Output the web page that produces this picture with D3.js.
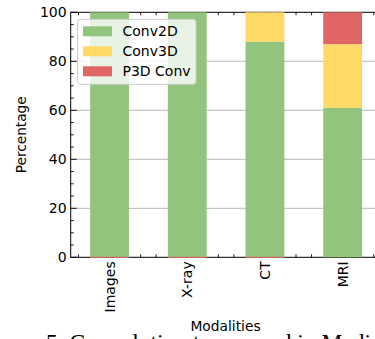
<!DOCTYPE html>
<html>
<head>
<meta charset="utf-8">
<script src="https://cdn.jsdelivr.net/npm/d3@7"></script>
<style>
  body { margin: 0; background: #fff; }
  text { font-family: "DejaVu Sans", sans-serif; fill: #000; }
</style>
</head>
<body>
<div id="chart"></div>
<script>
// share of convolution types per modality (%)
var modalities = ["Images", "X-ray", "CT", "MRI"];
var conv2d = [100, 100, 88, 61];
var conv3d = [0, 0, 12, 26];
var p3d    = [0, 0, 0, 13];
var seriesNames = ["Conv2D", "Conv3D", "P3D Conv"];
var yTicks = [0, 20, 40, 60, 80, 100];

var width = 375, height = 339;
var plotL = 70.7, plotT = 12.3, plotB = 257.3, plotR = 381.5;

var color = d3.scaleOrdinal()
  .domain(seriesNames)
  .range(["#93c47d", "#ffd966", "#e06666"]);

var rows = modalities.map(function (m, i) {
  return { modality: m, "Conv2D": conv2d[i], "Conv3D": conv3d[i], "P3D Conv": p3d[i] };
});

var svg = d3.select("#chart").append("svg")
  .attr("width", width)
  .attr("height", height);

var x = d3.scaleBand()
  .domain(modalities)
  .range([plotL, plotR])
  .paddingInner(0.5)
  .paddingOuter(0.25);

// linear twin of the band scale, used for the minor ticks
var xLin = d3.scaleLinear().domain([-0.5, modalities.length - 0.5]).range([plotL, plotR]);

var y = d3.scaleLinear().domain([0, 100]).range([plotB, plotT]);

// grid
svg.append("g").selectAll("line")
  .data(yTicks.filter(function (d) { return d > 0 && d < 100; }))
  .enter().append("line")
  .attr("x1", plotL).attr("x2", plotR)
  .attr("y1", function (d) { return y(d); })
  .attr("y2", function (d) { return y(d); })
  .attr("stroke", "#b0b0b0")
  .attr("stroke-width", 0.9);

// ticks (inward) on all sides
var tk = svg.append("g").attr("stroke", "#000").attr("stroke-width", 0.9);
y.ticks(20).forEach(function (d) {
  var len = yTicks.indexOf(d) >= 0 ? 6 : 3;
  tk.append("line").attr("x1", plotL).attr("x2", plotL + len)
    .attr("y1", y(d)).attr("y2", y(d));
});
xLin.ticks(20).forEach(function (d) {
  var major = Math.abs(d - Math.round(d)) < 1e-6;
  var len = major ? 6 : 3;
  tk.append("line").attr("x1", xLin(d)).attr("x2", xLin(d))
    .attr("y1", plotB).attr("y2", plotB - len);
  tk.append("line").attr("x1", xLin(d)).attr("x2", xLin(d))
    .attr("y1", plotT).attr("y2", plotT + len);
});

// spines
svg.append("rect")
  .attr("x", plotL).attr("y", plotT)
  .attr("width", plotR - plotL).attr("height", plotB - plotT)
  .attr("fill", "none").attr("stroke", "#000").attr("stroke-width", 1);

// stacked bars
var stack = d3.stack().keys(seriesNames);
var layers = stack(rows);

svg.append("g").selectAll("g")
  .data(layers)
  .enter().append("g")
  .attr("fill", function (d) { return color(d.key); })
  .selectAll("rect")
  .data(function (d) { return d; })
  .enter().append("rect")
  .attr("x", function (d) { return x(d.data.modality); })
  .attr("y", function (d) { return y(d[1]); })
  .attr("width", x.bandwidth())
  .attr("height", function (d) { return y(d[0]) - y(d[1]); });

// empty P3D bars leave a thin edge on the baseline
svg.append("g").selectAll("line")
  .data(rows.filter(function (d) { return d["P3D Conv"] === 0; }))
  .enter().append("line")
  .attr("x1", function (d) { return x(d.modality); })
  .attr("x2", function (d) { return x(d.modality) + x.bandwidth(); })
  .attr("y1", plotB).attr("y2", plotB)
  .attr("stroke", color("P3D Conv"))
  .attr("stroke-width", 1);

// y tick labels
svg.append("g").selectAll("text")
  .data(yTicks)
  .enter().append("text")
  .attr("x", plotL - 4)
  .attr("y", function (d) { return y(d); })
  .attr("dy", "0.36em")
  .attr("text-anchor", "end")
  .style("font-size", "14px")
  .text(function (d) { return d; });

// x tick labels (rotated)
svg.append("g").selectAll("text")
  .data(modalities)
  .enter().append("text")
  .attr("transform", function (d) {
    return "translate(" + (x(d) + x.bandwidth() / 2) + "," + (plotB + 4) + ") rotate(-90)";
  })
  .attr("dy", "0.36em")
  .attr("text-anchor", "end")
  .style("font-size", "14px")
  .text(function (d) { return d; });

// axis titles
svg.append("text")
  .attr("transform", "translate(26," + ((plotT + plotB) / 2) + ") rotate(-90)")
  .attr("text-anchor", "middle")
  .style("font-size", "13.7px")
  .text("Percentage");

svg.append("text")
  .attr("x", 225.5)
  .attr("y", 331)
  .attr("text-anchor", "middle")
  .style("font-size", "13.8px")
  .text("Modalities");

// legend
var lg = svg.append("g").attr("transform", "translate(77.5,19.3)");
lg.append("rect")
  .attr("width", 118.5).attr("height", 65)
  .attr("rx", 3)
  .attr("fill", "#fff").attr("fill-opacity", 0.8)
  .attr("stroke", "#cccccc").attr("stroke-width", 1);

var item = lg.selectAll(".item")
  .data(color.domain())
  .enter().append("g")
  .attr("class", "item")
  .attr("transform", function (d, i) { return "translate(5.5," + (12 + i * 20) + ")"; });
item.append("rect")
  .attr("y", -5).attr("width", 29).attr("height", 10)
  .attr("fill", color);
item.append("text")
  .attr("x", 39.5)
  .attr("dy", "0.36em")
  .style("font-size", "14px")
  .text(function (d) { return d; });

// caption of the figure below, cut by the frame
svg.append("text")
  .attr("x", 46)
  .attr("y", 350)
  .style("font-family", "'Liberation Serif', 'Times New Roman', serif")
  .style("font-size", "23.5px")
  .text("5. Convolution types used in Medical Imaging");
</script>
</body>
</html>
